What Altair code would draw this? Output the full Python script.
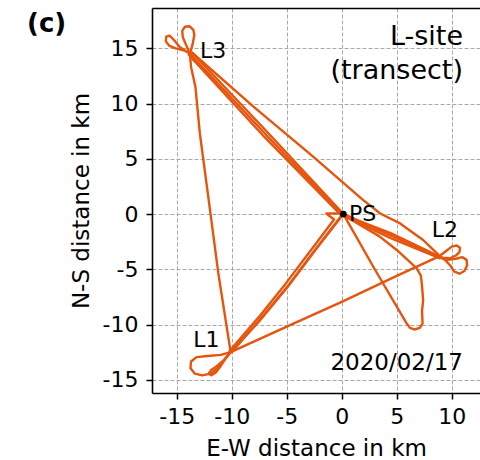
import altair as alt
import pandas as pd

# ---- flight track legs (km, E-W / N-S from PS) ----
C3 = (-13.8, 14.5)   # L3 turning point
C1 = (-10.1, -12.5)  # L1 turning point
C2 = (8.8, -3.86)    # L2 turning point
PS = (0.15, 0.0)

l3_upper_loop = [C3, (-14.1, 15.2), (-14.45, 16.0), (-14.5, 16.6), (-14.25, 16.95), (-13.85, 17.0),
                 (-13.5, 16.7), (-13.4, 16.2), (-13.55, 15.4), C3]
l3_left_loop = [C3, (-14.7, 15.1), (-15.3, 15.8), (-15.65, 16.15), (-15.95, 16.05), (-16.0, 15.65),
                (-15.7, 15.25), (-15.1, 15.0), (-14.3, 14.8), C3]
l1_big_loop = [C1, (-11.0, -12.75), (-12.2, -12.85), (-13.2, -12.95), (-13.7, -13.35), (-13.75, -13.95),
               (-13.35, -14.45), (-12.7, -14.6), (-11.9, -14.45), (-11.1, -13.8), (-10.5, -13.0), C1]
l1_small_loop = [C1, (-10.8, -13.3), (-11.4, -13.8), (-11.9, -14.15), (-12.1, -14.45), (-11.85, -14.6),
                 (-11.45, -14.35), (-11.1, -13.9), (-10.6, -13.1), C1]
l2_upper_loop = [C2, (9.55, -3.3), (10.0, -2.95), (10.45, -2.85), (10.75, -3.05), (10.7, -3.45),
                 (10.4, -3.75), (9.85, -4.0), (9.2, -3.95), C2]
l2_lower_loop = [C2, (9.6, -4.15), (10.4, -4.05), (10.95, -3.9), (11.35, -4.15), (11.4, -4.65),
                 (11.15, -5.15), (10.7, -5.4), (10.2, -5.2), (9.9, -4.7), (9.4, -4.15), C2]

l3_to_l1 = [C3, (-13.7, 13.3), (-13.3, 11.5), (-12.9, 7.3), (-12.1, 1.3), (-11.2, -5.5), C1]
l3_to_ps_a = [C3, (-6.9, 7.2), (0.0, 0.0)]
l3_to_ps_b = [(-13.6, 14.6), (-6.75, 7.4), (0.05, 0.1)]
l3_to_ps_c = [(-13.9, 14.4), (-7.05, 7.0), (-0.1, -0.05)]
l3_to_l2 = [(-13.6, 14.6), (-8.0, 9.7), (-2.6, 5.2), (1.9, 1.3), (3.5, 0.05), (5.3, -0.85),
            (7.4, -2.35), (8.8, -3.7)]
ps_to_l2_a = [(0.3, -0.05), (4.5, -1.95), C2]
ps_to_l2_b = [(0.3, -0.2), (4.5, -2.2), (8.9, -4.0)]
ps_to_l2_c = [(0.2, -0.1), (4.5, -1.75), (8.7, -3.75)]
ps_to_l1_a = [PS, (-2.5, -3.4), (-5.0, -6.7), (-7.5, -9.7), C1]
ps_to_l1_b = [(0.0, -0.1), (-2.4, -3.2), (-4.8, -6.4), (-7.4, -9.5), (-10.0, -12.5)]
ps_to_l1_c = [(-10.2, -12.4), (-7.6, -9.4), (-5.1, -6.3), (-2.6, -3.0), (-0.7, -0.5),
              (-1.4, 0.05), (0.1, 0.05)]
south_loop = [PS, (3.0, -5.0), (5.9, -9.9), (6.2, -10.3), (6.6, -10.45), (7.1, -10.3), (7.35, -9.9),
              (7.3, -8.8), (7.4, -7.8), (7.3, -6.5), (7.2, -5.6), (6.8, -4.9), (5.0, -3.25),
              (3.4, -2.0), (0.4, -0.25)]
l1_to_l2 = [C1, (-5.0, -10.2), (0.0, -7.95), (5.0, -5.6), C2]

legs = {
    "l3_upper_loop": l3_upper_loop, "l3_left_loop": l3_left_loop,
    "l1_big_loop": l1_big_loop, "l1_small_loop": l1_small_loop,
    "l2_upper_loop": l2_upper_loop, "l2_lower_loop": l2_lower_loop,
    "l3_to_l1": l3_to_l1, "l3_to_ps_a": l3_to_ps_a, "l3_to_ps_b": l3_to_ps_b,
    "l3_to_ps_c": l3_to_ps_c, "l3_to_l2": l3_to_l2,
    "ps_to_l2_a": ps_to_l2_a, "ps_to_l2_b": ps_to_l2_b, "ps_to_l2_c": ps_to_l2_c,
    "ps_to_l1_a": ps_to_l1_a, "ps_to_l1_b": ps_to_l1_b, "ps_to_l1_c": ps_to_l1_c,
    "south_loop": south_loop, "l1_to_l2": l1_to_l2,
}

# ---- site labels ----
label_names = ["L3", "L1", "L2", "PS"]
label_x = [-12.88, -13.5, 8.18, 0.67]
label_y = [14.1, -12.0, -2.05, -0.63]

x_ticks = [-15, -10, -5, 0, 5, 10]
y_ticks = [-15, -10, -5, 0, 5, 10, 15]

rows = []
for name, pts in legs.items():
    for i, (x, y) in enumerate(pts):
        rows.append({"leg": name, "i": i, "x": x, "y": y})
track_df = pd.DataFrame(rows)
label_df = pd.DataFrame({"name": label_names, "x": label_x, "y": label_y})
ps_df = pd.DataFrame({"x": [PS[0]], "y": [PS[1]]})

W, H = 328, 385
xs = alt.Scale(domain=[-17.25, 12.57], nice=False, zero=False)
ys = alt.Scale(domain=[-16.2, 18.65], nice=False, zero=False)

x_axis = alt.Axis(values=x_ticks, title="E-W distance in km", labelExpr="'' + datum.value",
                  labelPadding=7, titleY=62, titleBaseline="alphabetic", grid=True)
y_axis = alt.Axis(values=y_ticks, title="N-S distance in km", labelExpr="'' + datum.value",
                  labelPadding=8, titleX=-64, titleY=H / 2, titleAngle=270,
                  titleBaseline="alphabetic", grid=True)

track = alt.Chart(track_df).mark_line(
    color="#e6550d", strokeWidth=2.4, strokeJoin="round", strokeCap="round", clip=True
).encode(
    x=alt.X("x:Q", scale=xs, axis=x_axis),
    y=alt.Y("y:Q", scale=ys, axis=y_axis),
    detail="leg:N",
    order="i:Q",
)

dot = alt.Chart(ps_df).mark_circle(color="black", size=45, opacity=1).encode(
    x=alt.X("x:Q", scale=xs,
            axis=alt.Axis(orient="top", labels=False, ticks=False, grid=False, title=None,
                          domain=True)),
    y=alt.Y("y:Q", scale=ys, axis=y_axis),
)

labels = alt.Chart(label_df).mark_text(
    align="left", baseline="alphabetic", font="DejaVu Sans", fontSize=22, color="black"
).encode(
    x=alt.X("x:Q", scale=xs, axis=None),
    y=alt.Y("y:Q", scale=ys, axis=y_axis),
    text="name:N",
)


def note(text, px, py, size, weight="normal", align="right"):
    return alt.Chart(pd.DataFrame({"t": [text]})).mark_text(
        align=align, baseline="alphabetic", font="DejaVu Sans", fontSize=size,
        fontWeight=weight, color="black"
    ).encode(x=alt.value(px), y=alt.value(py), text="t:N")


site1 = note("L-site", 311, 37, 27)
site2 = note("(transect)", 311, 71, 27)
date = note("2020/02/17", 311, 362, 23)
panel = note("(c)", -125, 24, 26, weight="bold", align="left")

chart = alt.layer(track, dot, labels, site1, site2, date, panel).resolve_axis(
    x="independent"
).properties(
    width=W, height=H,
    autosize=alt.AutoSizeParams(type="none"),
    padding={"left": 152, "top": 8, "right": 0, "bottom": 67},
).configure_view(stroke=None).configure_axis(
    labelFont="DejaVu Sans", labelFontSize=22, labelColor="black",
    titleFont="DejaVu Sans", titleFontSize=23, titleFontWeight="normal", titleColor="black",
    tickColor="black", tickSize=6, tickWidth=1.5, domainColor="black", domainWidth=1.6,
    gridColor="#a8a8a8", gridDash=[4, 2], gridWidth=1,
)

chart.save("out.html", embed_options={"renderer": "svg", "actions": False})
